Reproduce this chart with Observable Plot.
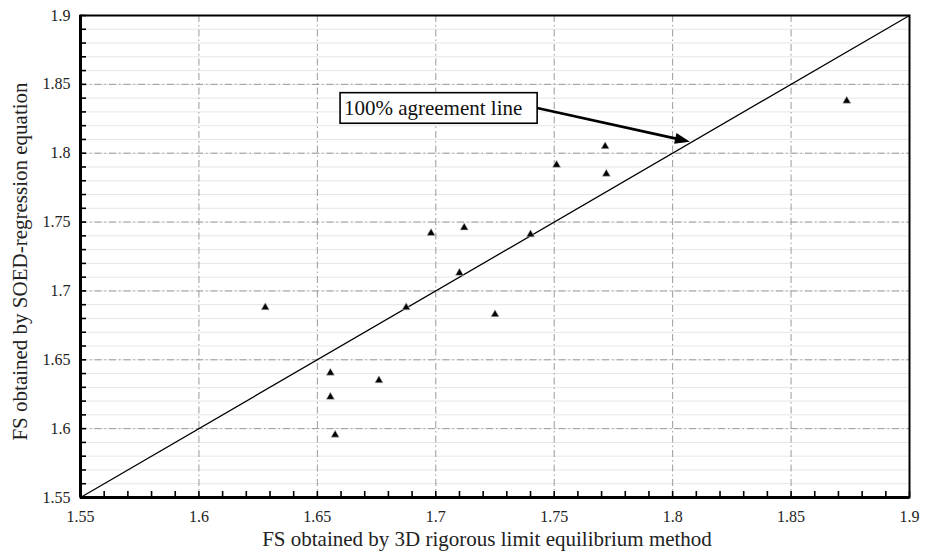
<!DOCTYPE html>
<html>
<head>
<meta charset="utf-8">
<script src="https://cdn.jsdelivr.net/npm/d3@7"></script>
<script src="https://cdn.jsdelivr.net/npm/@observablehq/plot@0.6"></script>
<style>
  html, body { margin: 0; padding: 0; background: #fff; }
  svg text { font-family: 'Liberation Serif', 'Times New Roman', Times, serif; }
</style>
</head>
<body>
<div id="chart"></div>
<script>
// ---- data ----
const rigorousFS = [1.628, 1.6555, 1.6555, 1.6575, 1.676, 1.6875, 1.698, 1.712, 1.710, 1.725, 1.740, 1.751, 1.7715, 1.772, 1.8735];
const soedFS     = [1.688, 1.6405, 1.623, 1.5955, 1.635, 1.688, 1.742, 1.746, 1.713, 1.683, 1.741, 1.7915, 1.805, 1.785, 1.838];

const xTicks = [1.55, 1.6, 1.65, 1.7, 1.75, 1.8, 1.85, 1.9];
const xTickLabels = ["1.55", "1.6", "1.65", "1.7", "1.75", "1.8", "1.85", "1.9"];
const yTicks = [1.55, 1.6, 1.65, 1.7, 1.75, 1.8, 1.85, 1.9];
const yTickLabels = ["1.55", "1.6", "1.65", "1.7", "1.75", "1.8", "1.85", "1.9"];
const minorTicks = d3.range(155, 191).map(v => v / 100);

const agreementLine = [1.55, 1.9];
const annotationText = "100% agreement line";
const annotationBox = {x1: 1.6598, x2: 1.743, y1: 1.8214, y2: 1.8436};
const annotationTextPos = {x: 1.6612, y: 1.8325};
const arrowFrom = {x: 1.743, y: 1.8325};
const arrowTo = {x: 1.8075, y: 1.808};

const xTitle = "FS obtained by 3D rigorous limit equilibrium method";
const yTitle = "FS obtained by SOED-regression equation";

// ---- build ----
const points = rigorousFS.map((x, i) => ({x, y: soedFS[i]}));
const W = 935, H = 553;
const mL = 80, mR = 26, mT = 15, mB = 56;
const frameW = W - mL - mR, frameH = H - mT - mB;
const serif = "'Liberation Serif', 'Times New Roman', Times, serif";
const dashDot = "7,3,1.5,3";

function arrowHead(index, scales) {
  const ns = "http://www.w3.org/2000/svg";
  const x0 = scales.x(arrowFrom.x), y0 = scales.y(arrowFrom.y);
  const x1 = scales.x(arrowTo.x), y1 = scales.y(arrowTo.y);
  const dx = x1 - x0, dy = y1 - y0, len = Math.hypot(dx, dy);
  const ux = dx / len, uy = dy / len;
  const hl = 15, hw = 5.5;
  const bx = x1 - ux * hl, by = y1 - uy * hl;
  const g = document.createElementNS(ns, "g");
  const shaft = document.createElementNS(ns, "line");
  shaft.setAttribute("x1", x0); shaft.setAttribute("y1", y0);
  shaft.setAttribute("x2", bx + ux * 2); shaft.setAttribute("y2", by + uy * 2);
  shaft.setAttribute("stroke", "#000"); shaft.setAttribute("stroke-width", 2.6);
  g.appendChild(shaft);
  const head = document.createElementNS(ns, "polygon");
  head.setAttribute("points", [
    [x1, y1],
    [bx - uy * hw, by + ux * hw],
    [bx + uy * hw, by - ux * hw]
  ].map(p => p.join(",")).join(" "));
  head.setAttribute("fill", "#000");
  g.appendChild(head);
  return g;
}

const chart = Plot.plot({
  width: W,
  height: H,
  marginLeft: mL,
  marginRight: mR,
  marginTop: mT,
  marginBottom: mB,
  style: {fontFamily: serif, fontSize: "16px", color: "#222", background: "#fff"},
  x: {domain: [1.55, 1.9], axis: null},
  y: {domain: [1.55, 1.9], axis: null},
  marks: [
    // minor horizontal grid
    Plot.ruleY(minorTicks, {y: d => d, stroke: "#e6e6e6", strokeWidth: 1}),
    // major grid
    Plot.ruleY(yTicks, {y: d => d, stroke: "#9a9a9a", strokeWidth: 1, strokeDasharray: dashDot}),
    Plot.ruleX(xTicks, {x: d => d, stroke: "#9a9a9a", strokeWidth: 1, strokeDasharray: dashDot}),
    // inner ticks
    Plot.tickX(minorTicks, {x: d => d, insetTop: frameH - 6, stroke: "#000", strokeWidth: 1.6}),
    Plot.tickY(minorTicks, {y: d => d, insetRight: frameW - 6, stroke: "#000", strokeWidth: 1.6}),
    // tick labels
    Plot.text(xTicks, {x: d => d, frameAnchor: "bottom", dy: 19, lineAnchor: "middle", textAnchor: "middle",
      text: d => xTickLabels[xTicks.indexOf(d)], fontSize: 16, fontFamily: serif, fill: "#222"}),
    Plot.text(yTicks, {y: d => d, frameAnchor: "left", dx: -10, lineAnchor: "middle", textAnchor: "end",
      text: d => yTickLabels[yTicks.indexOf(d)], fontSize: 16, fontFamily: serif, fill: "#222"}),
    // axis titles
    Plot.text([xTitle], {frameAnchor: "bottom", text: d => d, dy: 42, dx: -8, lineAnchor: "middle", textAnchor: "middle",
      fontSize: 21, fontFamily: serif, fill: "#222"}),
    Plot.text([yTitle], {frameAnchor: "left", text: d => d, dx: -60, dy: 5, rotate: -90, lineAnchor: "middle", textAnchor: "middle",
      fontSize: 21, fontFamily: serif, fill: "#222"}),
    // 100% agreement line
    Plot.line(agreementLine, {x: d => d, y: d => d, stroke: "#000", strokeWidth: 1.3}),
    // data points
    Plot.dot(points, {x: "x", y: "y", symbol: "triangle", r: 3, fill: "#000", stroke: "#bbb", strokeWidth: 0.6}),
    // annotation
    Plot.rect([annotationBox], {x1: "x1", x2: "x2", y1: "y1", y2: "y2", fill: "#fff", stroke: "#000", strokeWidth: 1.6}),
    Plot.text([annotationText], {x: annotationTextPos.x, y: annotationTextPos.y, text: d => d, textAnchor: "start",
      fontSize: 21, fontFamily: serif, fill: "#111"}),
    arrowHead,
    // frame
    Plot.frame({stroke: "#000", strokeWidth: 2}),
    Plot.ruleX([1.55], {stroke: "#000", strokeWidth: 3}),
    Plot.ruleY([1.55], {stroke: "#000", strokeWidth: 3})
  ]
});

document.getElementById("chart").appendChild(chart);
</script>
</body>
</html>
